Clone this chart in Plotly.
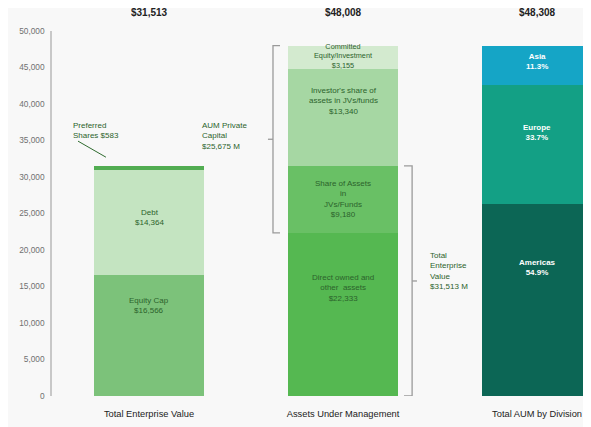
import plotly.graph_objects as go

# ---- data ----
categories = ["Total Enterprise Value", "Assets Under Management", "Total AUM by Division"]
totals_text = ["$31,513", "$48,008", "$48,308"]

tev_names = ["Equity Cap", "Debt", "Preferred Shares"]
tev_values = [16566, 14364, 583]

aum_names = ["Direct owned and<br>other  assets", "Share of Assets<br>in<br>JVs/Funds",
             "Investor's share of<br>assets in JVs/funds", "Committed<br>Equity/Investment"]
aum_values = [22333, 9180, 13340, 3155]

div_names = ["Americas", "Europe", "Asia"]
div_pct = [54.9, 33.7, 11.3]
div_total = 48008

aum_private = 25675
tev_total = 31513

# ---- styles ----
tev_colors = ["#7cc27a", "#c4e4c1", "#52ad52"]
aum_colors = ["#55b851", "#69c065", "#a6d7a3", "#d3eacf"]
div_colors = ["#0c6655", "#13a085", "#15a5c6"]
label_frac_tev = [0.75, 0.55, None]
label_frac_aum = [0.66, 0.5, 0.67, 0.55]
label_size_aum = [8, 8, 8, 7.3]
label_frac_div = [0.67, 0.6, 0.6]
FONT = "Arial, Liberation Sans, sans-serif"
txt_green = "#2c632c"
bw = 0.567

fig = go.Figure()
annotations = []


def add_stack(xi, names, values, colors, fracs, text_color, bold=False, fmt=None, sizes=None):
    base = 0
    for i, (n, v, c) in enumerate(zip(names, values, colors)):
        fig.add_trace(go.Bar(x=[xi], y=[v], marker=dict(color=c, line=dict(width=0)),
                             width=bw, showlegend=False, hoverinfo="skip"))
        if fracs[i] is not None:
            label = fmt(n, v) if fmt else f"{n}<br>${v:,}"
            if bold:
                label = "<b>" + label + "</b>"
            fs = sizes[i] if sizes else 8
            annotations.append(dict(x=xi, y=base + fracs[i] * v, xref="x", yref="y",
                                    text=label, showarrow=False,
                                    font=dict(size=fs, color=text_color, family=FONT)))
        base += v


add_stack(0, tev_names, tev_values, tev_colors, label_frac_tev, txt_green)
add_stack(1, aum_names, aum_values, aum_colors, label_frac_aum, txt_green, sizes=label_size_aum)
div_values = [div_total * p / 100 for p in div_pct]
add_stack(2, div_names, div_values, div_colors, label_frac_div, "white", bold=True,
          fmt=lambda n, v: f"{n}<br>{v / div_total * 100:.1f}%")

# totals on top
for i, t in enumerate(totals_text):
    annotations.append(dict(x=i, y=1.052, xref="x", yref="paper", yanchor="middle",
                            text=f"<b>{t}</b>", showarrow=False,
                            font=dict(size=10, color="#222", family=FONT)))

# preferred shares callout
pref_top = sum(tev_values)
annotations.append(dict(x=-0.40, y=pref_top + 4800, xref="x", yref="y",
                        text=f"Preferred<br>Shares ${tev_values[2]:,}", showarrow=False,
                        xanchor="left", align="left",
                        font=dict(size=8, color=txt_green, family=FONT)))

shapes = []
shapes.append(dict(type="line", xref="x", yref="y", x0=-0.366, y0=pref_top + 3400,
                   x1=-0.222, y1=pref_top + 1200, line=dict(color="#2f6b2f", width=1)))

# bracket: AUM private capital (left of bar 2)
b0 = aum_values[0]
b1 = sum(aum_values)
mid = (b0 + b1) / 2
xv, xh, xt = 0.639, 0.675, 0.613
bracket_col = "#9a9a9a"
shapes.append(dict(type="path", xref="x", yref="y",
                   path=f"M {xh},{b1} L {xv},{b1} L {xv},{b0} L {xh},{b0}",
                   line=dict(color=bracket_col, width=1.3)))
shapes.append(dict(type="line", xref="x", yref="y", x0=xv, x1=xt, y0=mid, y1=mid,
                   line=dict(color=bracket_col, width=1.3)))
annotations.append(dict(x=0.263, y=mid + 500, xref="x", yref="y",
                        text=f"AUM Private<br>Capital<br>${aum_private:,} M", showarrow=False,
                        xanchor="left", align="left",
                        font=dict(size=8, color=txt_green, family=FONT)))

# bracket: total enterprise value (right of bar 2)
t0 = 0
t1 = aum_values[0] + aum_values[1]
tmid = (t0 + t1) / 2
xv2, xh2, xt2 = 1.356, 1.314, 1.381
shapes.append(dict(type="path", xref="x", yref="y",
                   path=f"M {xh2},{t1} L {xv2},{t1} L {xv2},{t0} L {xh2},{t0}",
                   line=dict(color=bracket_col, width=1.3)))
shapes.append(dict(type="line", xref="x", yref="y", x0=xv2, x1=xt2, y0=tmid, y1=tmid,
                   line=dict(color=bracket_col, width=1.3)))
annotations.append(dict(x=1.438, y=tmid + 1300, xref="x", yref="y",
                        text=f"Total<br>Enterprise<br>Value<br>${tev_total:,} M", showarrow=False,
                        xanchor="left", align="left",
                        font=dict(size=8, color=txt_green, family=FONT)))

fig.update_layout(
    barmode="stack",
    width=583, height=419,
    margin=dict(l=44, r=0, t=23, b=31),
    paper_bgcolor="#f8f8f8", plot_bgcolor="#f8f8f8",
    font=dict(family=FONT),
    annotations=annotations,
    shapes=shapes,
    xaxis=dict(range=[-0.5, 2.278], tickvals=[0, 1, 2], ticktext=categories,
               showline=False, showgrid=False, zeroline=False, ticks="",
               ticklabelstandoff=11, automargin=False,
               tickfont=dict(size=9.3, color="#222")),
    yaxis=dict(range=[0, 50000], tickvals=list(range(0, 50001, 5000)), tickformat=",",
               showline=True, linecolor="#c8c8c8", linewidth=1.5, showgrid=False,
               zeroline=False, ticks="", tickfont=dict(size=8.3, color="#707070"),
               ticklabelstandoff=4, automargin=False),
)

fig.write_html("out.html")
